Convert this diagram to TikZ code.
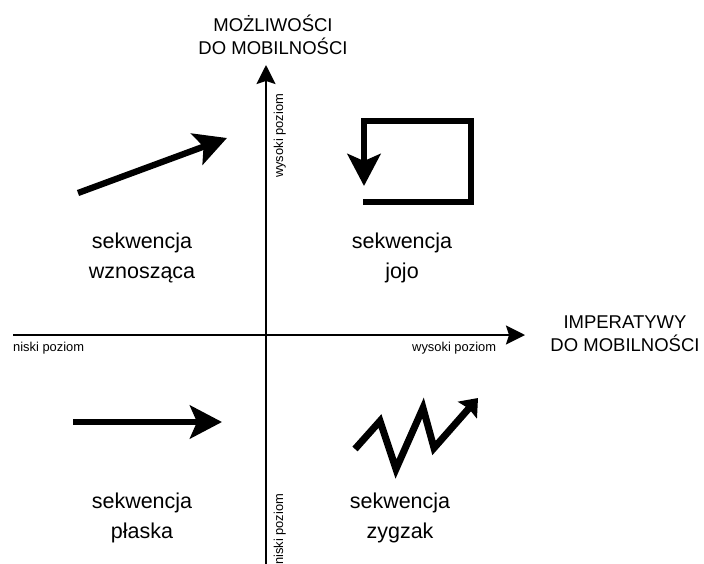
\documentclass[tikz,border=0pt]{standalone}
\usepackage{fontspec}
\setmainfont{Liberation Sans}
\usetikzlibrary{arrows.meta}
\begin{document}
\begin{tikzpicture}[x=1pt,y=-1pt,
  axis/.style={line width=2pt, -{Stealth[length=19pt,width=19pt,inset=3pt]}},
  bigarrow/.style={line width=6.3pt, line join=miter, -{Stealth[length=32pt,width=33pt,inset=7pt]}},
  zigarrow/.style={line width=7pt, line join=miter, -{Stealth[length=16pt,width=25pt,inset=2pt]}},
  axistitle/.style={inner sep=0pt, align=center, font=\fontsize{18.5}{22.5}\selectfont},
  level/.style={inner sep=0pt, font=\fontsize{12.9}{15}\selectfont},
  quadlabel/.style={inner sep=0pt, align=center, font=\fontsize{21.5}{30}\selectfont}
]
\useasboundingbox (0,0) rectangle (704,563);
\fill[white] (0,0) rectangle (704,563);

% axes
\coordinate (xstart) at (13,335);
\coordinate (xend) at (525,335);
\coordinate (ystart) at (266,566);
\coordinate (yend) at (266,65);
\draw[axis] (xstart) -- (xend);
\draw[axis] (ystart) -- (yend);

% axis titles (anchored on the baseline of the last line)
\node[axistitle, anchor=base] (ytitle) at (273,54) {MOŻLIWOŚCI\\DO MOBILNOŚCI};
\node[axistitle, anchor=base] (xtitle) at (625,351) {IMPERATYWY\\DO MOBILNOŚCI};

% level labels
\node[level, anchor=base west] (xlow) at (13,351) {niski poziom};
\node[level, anchor=base west] (xhigh) at (412,351) {wysoki poziom};
\node[level, anchor=base west, rotate=90] (yhigh) at (283,178) {wysoki poziom};
\node[level, anchor=base west, rotate=90] (ylow) at (283,565) {niski poziom};

% quadrant labels
\node[quadlabel, anchor=base] (qrise) at (142,278) {sekwencja\\wznosząca};
\node[quadlabel, anchor=base] (qyoyo) at (402,278) {sekwencja\\jojo};
\node[quadlabel, anchor=base] (qflat) at (142,538) {sekwencja\\płaska};
\node[quadlabel, anchor=base] (qzig) at (400,538) {sekwencja\\zygzak};

% rising sequence
\coordinate (r1) at (78,193);
\coordinate (r2) at (227,138);
\draw[bigarrow] (r1) -- (r2);

% flat sequence
\coordinate (f1) at (73,422);
\coordinate (f2) at (222,422);
\draw[bigarrow] (f1) -- (f2);

% yo-yo sequence
\coordinate (j1) at (363,202);
\coordinate (j2) at (471,202);
\coordinate (j3) at (471,121);
\coordinate (j4) at (364,121);
\coordinate (j5) at (364,186);
\draw[bigarrow] (j1) -- (j2) -- (j3) -- (j4) -- (j5);

% zigzag sequence
\coordinate (z1) at (355,449);
\coordinate (z2) at (380,421);
\coordinate (z3) at (396,469);
\coordinate (z4) at (423,408);
\coordinate (z5) at (434,448);
\coordinate (z6) at (478,398);
\draw[zigarrow] (z1) -- (z2) -- (z3) -- (z4) -- (z5) -- (z6);
\end{tikzpicture}
\end{document}
